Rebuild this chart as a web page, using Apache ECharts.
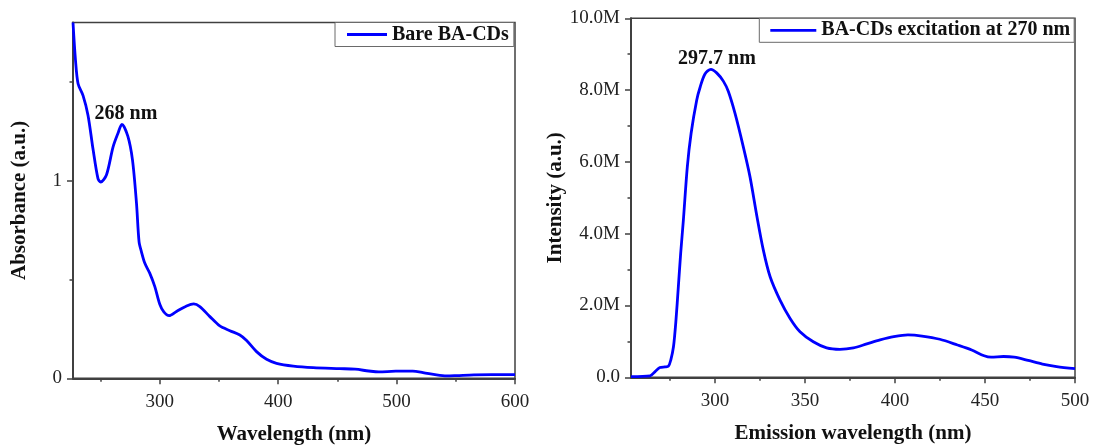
<!DOCTYPE html>
<html>
<head>
<meta charset="utf-8">
<script src="https://cdn.jsdelivr.net/npm/echarts@6/dist/echarts.min.js"></script>
<style>
  html, body { margin: 0; padding: 0; background: #fff; }
  #chart { width: 1095px; height: 446px; }
</style>
</head>
<body>
<div id="chart"></div>
<script>
// UV-Vis absorbance spectrum (left panel)
const absWavelength = [226.7, 228.8, 231, 235.2, 239.4, 243.6, 247.8, 250.1, 255, 260.5, 264.7, 268, 273, 276.9, 280.3, 282.5, 284.5, 287.3, 291.5, 295.8, 300, 303.4, 307.9, 314.1, 322.6, 328.7, 333.8, 342.3, 350.7, 359.2, 367.6, 373.3, 381.7, 390.2, 398.6, 412.7, 429.6, 452.2, 464.9, 476.4, 485, 499.3, 513.6, 522.3, 533.7, 542.3, 550.9, 565.3, 600];
const absorbance    = [1.80, 1.61, 1.49, 1.43, 1.33, 1.16, 1.01, 0.993, 1.03, 1.17, 1.24, 1.285, 1.225, 1.106, 0.887, 0.690, 0.640, 0.583, 0.532, 0.464, 0.375, 0.336, 0.317, 0.338, 0.366, 0.377, 0.363, 0.312, 0.265, 0.241, 0.219, 0.191, 0.135, 0.096, 0.076, 0.062, 0.054, 0.049, 0.046, 0.037, 0.032, 0.036, 0.036, 0.029, 0.017, 0.012, 0.0136, 0.017, 0.019];

// Photoluminescence emission spectrum, excitation 270 nm (right panel), intensity in millions
const emWavelength = [253.3, 263.9, 266.7, 269.4, 272.2, 274.1, 275.4, 276.9, 278.3, 279.6, 280.9, 282.4, 284.6, 286.7, 289.8, 291.7, 294.4, 297.7, 300.9, 304.6, 307.4, 311.1, 315.7, 319.4, 323.2, 326.8, 330.6, 336.1, 341.7, 347.2, 354.6, 362, 369.4, 376.9, 384.3, 391.7, 399.3, 407.2, 415, 424.9, 434.7, 442.6, 449.5, 453.4, 460.3, 466.2, 474, 481.9, 489.8, 500];
const intensityM   = [0.02, 0.04, 0.16, 0.27, 0.29, 0.31, 0.48, 0.85, 1.60, 2.52, 3.45, 4.38, 5.87, 6.80, 7.72, 8.08, 8.45, 8.58, 8.48, 8.25, 7.96, 7.35, 6.42, 5.59, 4.50, 3.55, 2.80, 2.15, 1.64, 1.27, 0.99, 0.82, 0.78, 0.82, 0.93, 1.04, 1.13, 1.18, 1.15, 1.06, 0.90, 0.76, 0.60, 0.56, 0.58, 0.56, 0.47, 0.37, 0.30, 0.24];

// Axis ticks
const absXMajor = [300, 400, 500, 600];
const absXMinor = [250, 350, 450, 550];
const absYMajor = [0, 1];
const absYMinor = [0.5, 1.5];
const emXMajor = [300, 350, 400, 450, 500];
const emXMinor = [275, 325, 375, 425, 475];

// Peak annotations
const absPeak = { wavelength: 268, value: 1.285, text: '268 nm' };
const emPeak  = { wavelength: 297.7, value: 8.58, text: '297.7 nm' };

const absName = 'Bare BA-CDs';
const emName = 'BA-CDs excitation at 270 nm';

const SERIF = '"Liberation Serif", "Times New Roman", serif';
const AXIS_COLOR = '#404040';
const LINE_BLUE = '#0000ff';

function zip(xs, ys) { return xs.map((x, i) => [x, ys[i]]); }

const tickLabel = { fontFamily: SERIF, fontSize: 19, color: '#222' };

function mainAxis(extra) {
  return Object.assign({
    type: 'value',
    nameLocation: 'middle',
    nameTextStyle: { fontFamily: SERIF, fontWeight: 'bold', fontSize: 21, color: '#111' },
    axisLine: { show: true, onZero: false, lineStyle: { color: AXIS_COLOR, width: 2 } },
    splitLine: { show: false }
  }, extra);
}

function majorTick(values) {
  const t = { show: true, length: 6, lineStyle: { color: AXIS_COLOR, width: 1.5 } };
  if (values) t.customValues = values;
  return t;
}

function minorAxis(extra, values) {
  return Object.assign({
    type: 'value',
    axisLine: { show: false },
    axisTick: { show: true, length: 3.5, customValues: values, lineStyle: { color: AXIS_COLOR, width: 1.5 } },
    axisLabel: { show: false },
    splitLine: { show: false }
  }, extra);
}

function peakMark(peak, offsetX) {
  return {
    symbol: 'circle',
    symbolSize: 1,
    itemStyle: { color: 'rgba(0,0,0,0)' },
    label: {
      show: true,
      position: 'top',
      distance: 4,
      offset: [offsetX, 4],
      formatter: peak.text,
      fontFamily: SERIF,
      fontWeight: 'bold',
      fontSize: 20,
      color: '#111'
    },
    data: [{ coord: [peak.wavelength, peak.value] }]
  };
}

const legendText = { fontFamily: SERIF, fontWeight: 'bold', fontSize: 20, color: '#111', lineHeight: 20 };

const option = {
  animation: false,
  backgroundColor: '#fff',
  grid: [
    { left: 73, top: 22.5, width: 442, height: 355.8, show: true, borderColor: AXIS_COLOR, borderWidth: 1.5, containLabel: false, outerBoundsMode: 'none' },
    { left: 631, top: 18.3, width: 444, height: 359, show: true, borderColor: AXIS_COLOR, borderWidth: 1.5, containLabel: false, outerBoundsMode: 'none' }
  ],
  legend: [
    {
      data: [absName], left: 335, top: 22.5, orient: 'horizontal',
      icon: 'rect', itemWidth: 40, itemHeight: 2.8, padding: [2, 5, 2, 12],
      itemStyle: { color: LINE_BLUE },
      borderColor: '#6a6a6a', borderWidth: 1, backgroundColor: '#fff',
      textStyle: legendText, selectedMode: false
    },
    {
      data: [emName], left: 759.3, top: 18.3, orient: 'horizontal',
      icon: 'rect', itemWidth: 46, itemHeight: 2.8, padding: [2, 4, 2, 11],
      itemStyle: { color: LINE_BLUE },
      borderColor: '#6a6a6a', borderWidth: 1, backgroundColor: '#fff',
      textStyle: legendText, selectedMode: false
    }
  ],
  xAxis: [
    mainAxis({
      gridIndex: 0, min: 226.7, max: 600, position: 'bottom',
      name: 'Wavelength (nm)', nameGap: 46,
      axisTick: majorTick(absXMajor),
      axisLabel: Object.assign({ margin: 14, customValues: absXMajor }, tickLabel)
    }),
    minorAxis({ gridIndex: 0, min: 226.7, max: 600, position: 'bottom' }, absXMinor),
    mainAxis({
      gridIndex: 1, min: 253.3, max: 500, position: 'bottom',
      name: 'Emission wavelength (nm)', nameGap: 46,
      axisTick: majorTick(emXMajor),
      axisLabel: Object.assign({ margin: 14, customValues: emXMajor }, tickLabel)
    }),
    minorAxis({ gridIndex: 1, min: 253.3, max: 500, position: 'bottom' }, emXMinor)
  ],
  yAxis: [
    mainAxis({
      gridIndex: 0, min: 0, max: 1.8, position: 'left',
      name: 'Absorbance (a.u.)', nameGap: 43,
      axisTick: majorTick(absYMajor),
      axisLabel: Object.assign({ margin: 11, customValues: absYMajor }, tickLabel)
    }),
    minorAxis({ gridIndex: 0, min: 0, max: 1.8, position: 'left' }, absYMinor),
    mainAxis({
      gridIndex: 1, min: 0, max: 10, interval: 2, position: 'left',
      name: 'Intensity (a.u.)', nameGap: 64,
      axisTick: majorTick(null),
      minorTick: { show: true, splitNumber: 2, length: 3.5, lineStyle: { color: AXIS_COLOR, width: 1.5 } },
      axisLabel: Object.assign({
        margin: 11,
        formatter: v => v === 0 ? '0.0' : v.toFixed(1) + 'M'
      }, tickLabel)
    })
  ],
  series: [
    {
      name: absName, type: 'line', xAxisIndex: 0, yAxisIndex: 0,
      data: zip(absWavelength, absorbance),
      symbol: 'none', smooth: 0.3,
      lineStyle: { color: LINE_BLUE, width: 2.8 },
      itemStyle: { color: LINE_BLUE },
      clip: true,
      markPoint: peakMark(absPeak, 4)
    },
    {
      name: emName, type: 'line', xAxisIndex: 2, yAxisIndex: 2,
      data: zip(emWavelength, intensityM),
      symbol: 'none', smooth: 0.3,
      lineStyle: { color: LINE_BLUE, width: 2.8 },
      itemStyle: { color: LINE_BLUE },
      clip: true,
      markPoint: peakMark(emPeak, 6)
    }
  ]
};

const chart = echarts.init(document.getElementById('chart'), null, { renderer: 'canvas' });
chart.setOption(option);
</script>
</body>
</html>
